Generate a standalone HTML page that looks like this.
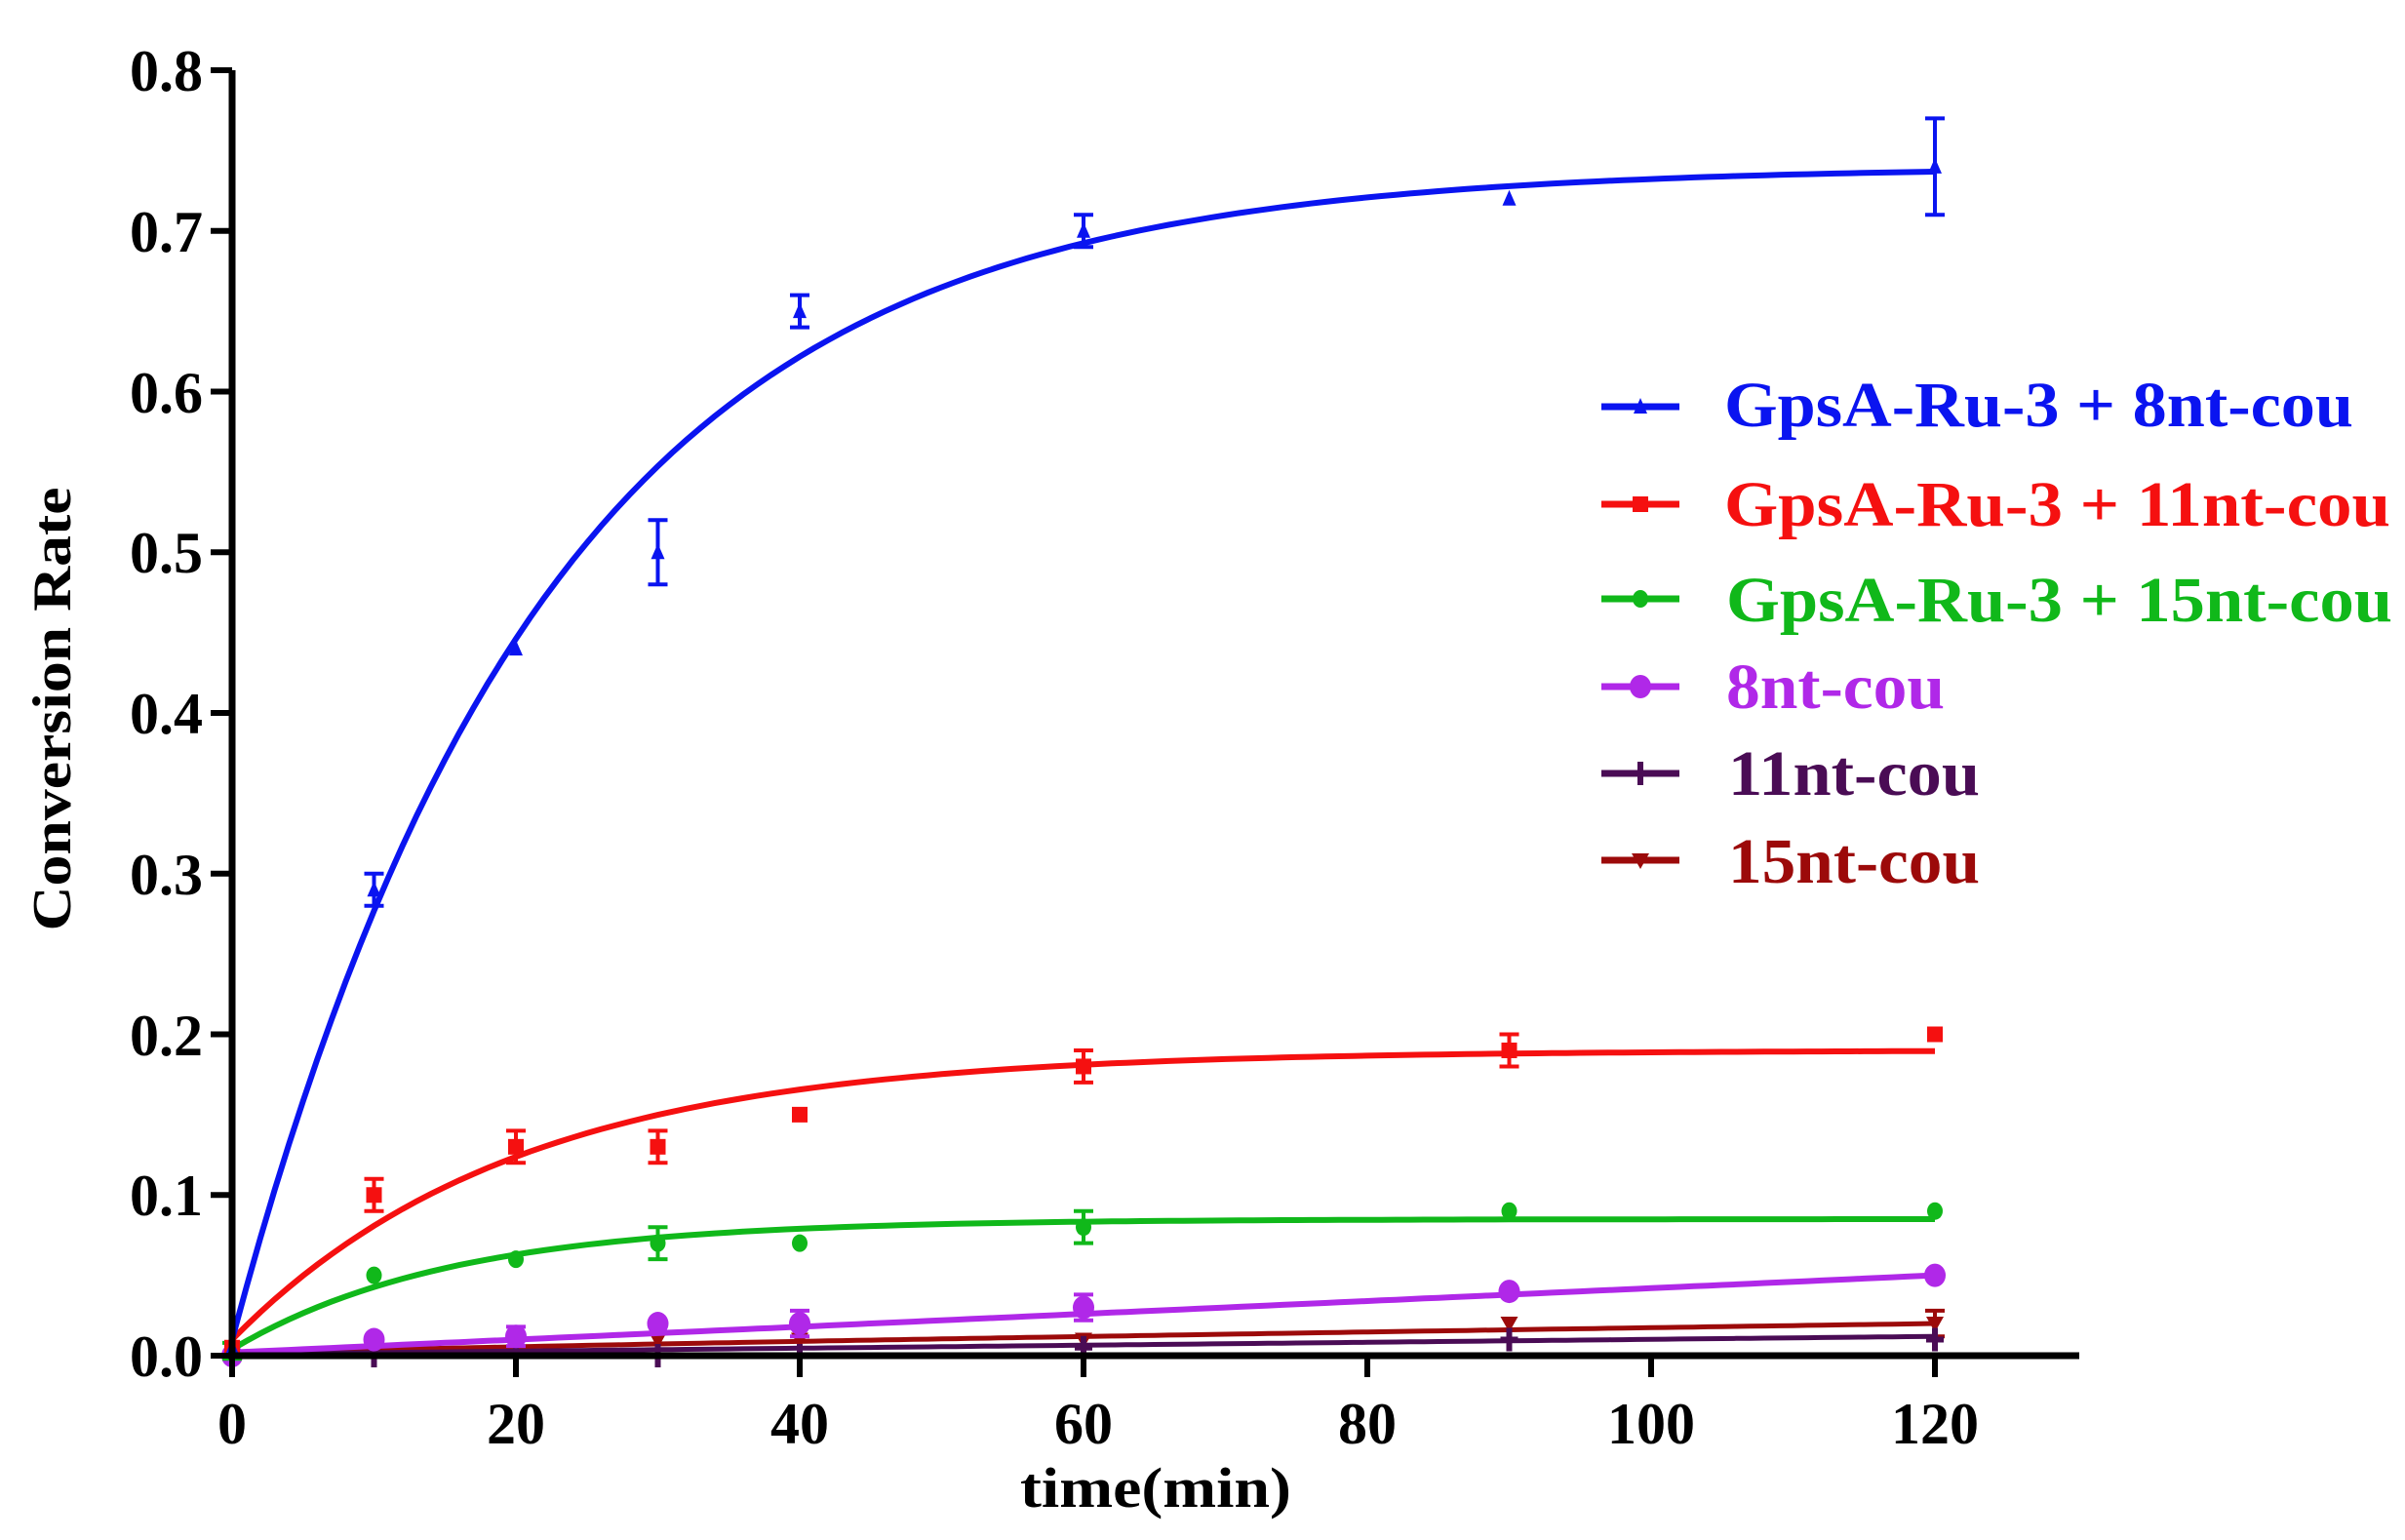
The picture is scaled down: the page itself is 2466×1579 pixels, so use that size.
<!DOCTYPE html>
<html><head><meta charset="utf-8"><style>html,body{margin:0;padding:0;background:#fff}svg{display:block}</style></head>
<body>
<svg id="s" width="2466" height="1579" viewBox="0 0 2466 1579" xmlns="http://www.w3.org/2000/svg" font-family="Liberation Serif, serif" font-weight="bold">
<rect width="2466" height="1579" fill="#fff"/>
<g id="plot"></g>
<!-- axes -->
<line x1="238" y1="72" x2="238" y2="1393" stroke="#000" stroke-width="7"/>
<line x1="234" y1="1390" x2="2132" y2="1390" stroke="#000" stroke-width="7"/>
<g id="ticks" stroke="#000" stroke-width="6"></g>
<g font-size="60" text-anchor="end" fill="#000">
<text x="208" y="93">0.8</text><text x="208" y="258">0.7</text><text x="208" y="423">0.6</text><text x="208" y="587">0.5</text>
<text x="208" y="752">0.4</text><text x="208" y="917">0.3</text><text x="208" y="1082">0.2</text><text x="208" y="1246">0.1</text><text x="208" y="1411">0.0</text>
</g>
<g font-size="60" text-anchor="middle" fill="#000">
<text x="238" y="1480">0</text><text x="529" y="1480">20</text><text x="820" y="1480">40</text><text x="1111" y="1480">60</text>
<text x="1402" y="1480">80</text><text x="1693" y="1480">100</text><text x="1984" y="1480">120</text>
</g>
<text x="1185" y="1545" font-size="58" text-anchor="middle" textLength="278" lengthAdjust="spacingAndGlyphs">time(min)</text>
<text transform="translate(72,727) rotate(-90)" font-size="56" text-anchor="middle" textLength="455" lengthAdjust="spacingAndGlyphs">Conversion Rate</text>
<g id="leg"></g>
<g font-size="66">
<text x="1768" y="437" fill="#0a14f0" textLength="645" lengthAdjust="spacingAndGlyphs">GpsA-Ru-3 + 8nt-cou</text>
<text x="1768" y="539" fill="#f51010" textLength="683" lengthAdjust="spacingAndGlyphs">GpsA-Ru-3 + 11nt-cou</text>
<text x="1770" y="637" fill="#10b81a" textLength="683" lengthAdjust="spacingAndGlyphs">GpsA-Ru-3 + 15nt-cou</text>
<text x="1770" y="726" fill="#b028e8" textLength="224" lengthAdjust="spacingAndGlyphs">8nt-cou</text>
<text x="1772" y="815" fill="#4a0c55" textLength="258" lengthAdjust="spacingAndGlyphs">11nt-cou</text>
<text x="1772" y="905" fill="#9c0a0a" textLength="258" lengthAdjust="spacingAndGlyphs">15nt-cou</text>
</g>
<script>
var NS="http://www.w3.org/2000/svg";
function X(t){return 238+t*14.55;} function Y(v){return 1390-v*1647.5;}
function el(p,n,a){var e=document.createElementNS(NS,n);for(var k in a)e.setAttribute(k,a[k]);p.appendChild(e);return e;}
var tk=document.getElementById('ticks');
for(var i=0;i<=8;i++){el(tk,'line',{x1:216,x2:238,y1:Y(i/10),y2:Y(i/10)});}
for(var t=0;t<=120;t+=20){el(tk,'line',{x1:X(t),x2:X(t),y1:1390,y2:1412});}
var P=document.getElementById('plot');
var T=[0,10,20,30,40,60,90,120];
var S=[
 {c:'#0a14f0',f:function(t){return 0.01+0.73*(1-Math.exp(-0.0455*t));},m:'tri',d:[0.005,0.29,0.44,0.50,0.65,0.70,0.72,0.74],e:[0,0.01,0,0.02,0.01,0.01,0,0.03],w:6},
 {c:'#f51010',f:function(t){return 0.01+0.18*(1-Math.exp(-0.05*t));},m:'sq',d:[0.005,0.10,0.13,0.13,0.15,0.18,0.19,0.20],e:[0,0.01,0.01,0.01,0,0.01,0.01,0],w:6},
 {c:'#10b81a',f:function(t){return 0.004+0.081*(1-Math.exp(-0.065*t));},m:'dot',d:[0.003,0.05,0.06,0.07,0.07,0.08,0.09,0.09],e:[0.005,0,0,0.01,0,0.01,0,0],w:6},
 {c:'#b028e8',f:function(t){return 0.002+0.048*t/120-0.00*t*t;},m:'big',d:[0.0,0.01,0.012,0.02,0.02,0.03,0.04,0.05],e:[0,0,0.006,0,0.008,0.008,0,0],w:6},
 {c:'#4a0c55',f:function(t){return 0.001+0.011*t/120;},m:'plus',d:[0,0,0,0,0,0.005,0.01,0.01],e:[0,0,0,0,0,0,0,0],w:5},
 {c:'#9c0a0a',f:function(t){return 0.001+0.019*Math.pow(t/120,0.8);},m:'inv',d:[0,0.005,0.01,0.01,0.01,0.01,0.02,0.02],e:[0,0.005,0,0,0,0,0,0.008],w:5}
];
S.slice().reverse().forEach(function(s){
 var p='';for(var t=0;t<=120;t+=1){p+=(t?'L':'M')+X(t).toFixed(1)+' '+Y(s.f(t)).toFixed(1);}
 el(P,'path',{d:p,fill:'none',stroke:s.c,'stroke-width':s.w});
 T.forEach(function(t,i){var x=X(t),y=Y(s.d[i]),e=s.e[i];
  if(e>0){var a=Y(s.d[i]+e),b=Y(s.d[i]-e);el(P,'path',{d:'M'+x+' '+a+'L'+x+' '+b+'M'+(x-10)+' '+a+'L'+(x+10)+' '+a+'M'+(x-10)+' '+b+'L'+(x+10)+' '+b,stroke:s.c,'stroke-width':4,fill:'none'});}
  mk(P,s.m,x,y,s.c);});
});
function mk(p,m,x,y,c){
 if(m=='tri')el(p,'path',{d:'M'+x+' '+(y-9)+'L'+(x+7)+' '+(y+7)+'L'+(x-7)+' '+(y+7)+'Z',fill:c});
 else if(m=='sq')el(p,'rect',{x:x-8,y:y-8,width:16,height:16,fill:c});
 else if(m=='dot')el(p,'ellipse',{cx:x,cy:y,rx:8,ry:9,fill:c});
 else if(m=='big')el(p,'ellipse',{cx:x,cy:y,rx:11,ry:12,fill:c});
 else if(m=='plus')el(p,'path',{d:'M'+(x-9)+' '+y+'L'+(x+9)+' '+y+'M'+x+' '+(y-12)+'L'+x+' '+(y+12),stroke:c,'stroke-width':6});
 else if(m=='inv')el(p,'path',{d:'M'+(x-9)+' '+(y-7)+'L'+(x+9)+' '+(y-7)+'L'+x+' '+(y+9)+'Z',fill:c});
}
var L=document.getElementById('leg');
[[417,0],[517,1],[614,2],[704,3],[793,4],[882,5]].forEach(function(r){var s=S[r[1]];
 el(L,'line',{x1:1642,x2:1722,y1:r[0],y2:r[0],stroke:s.c,'stroke-width':7});mk(L,s.m,1682,r[0],s.c);});
</script>
</svg>
</body></html>
